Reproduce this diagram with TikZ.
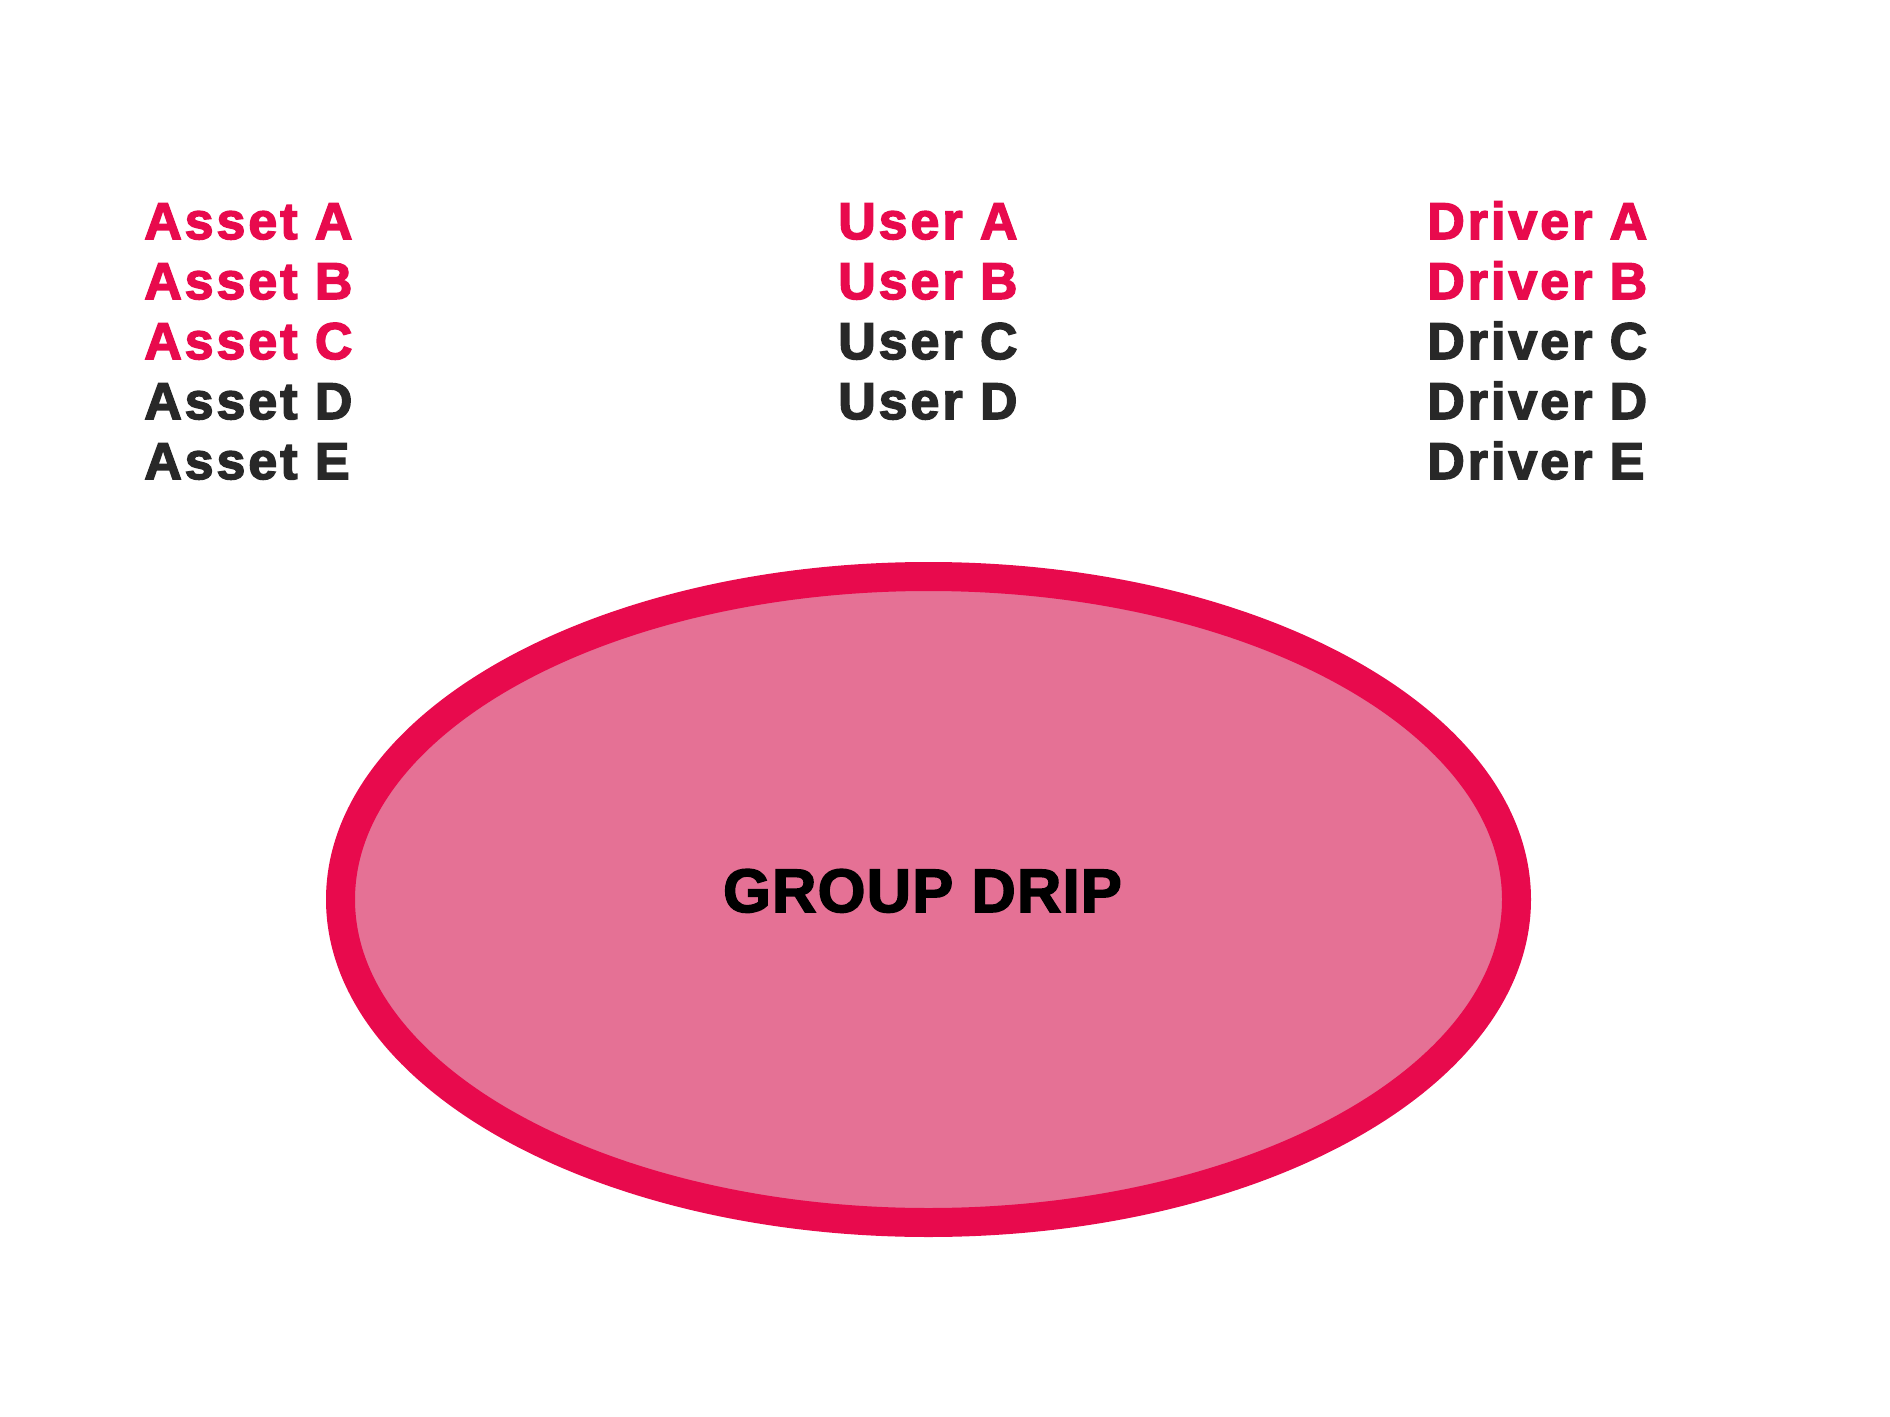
\documentclass[tikz,border=0pt]{standalone}
\usepackage{fontspec}
\setmainfont{Liberation Sans}
\usetikzlibrary{
		shapes.geometric,
		positioning
	}
\definecolor{dripred}{RGB}{232,10,77}
\definecolor{dripfill}{RGB}{229,113,149}
\definecolor{dripdark}{RGB}{40,40,40}
\newfontfamily\labelfont[FakeBold=3,LetterSpace=6]{Liberation Sans Bold}
\newfontfamily\titlefont[FakeBold=2.5,LetterSpace=2]{Liberation Sans Bold}
\tikzset{
		item/.style={anchor=base west, inner sep=0pt, font=\labelfont\fontsize{25.85}{30}\selectfont},
		drip/.style={ellipse, draw=dripred, fill=dripfill, line width=14.5pt, inner sep=0pt}
	}

\begin{document}
\begin{tikzpicture}[x=0.5pt, y=-0.5pt] % (one unit = one pixel of the reference, y pointing down)
		\useasboundingbox (0,0) rectangle (1890,1417);
		\node[drip, minimum width=588pt, minimum height=323pt] (group) at (928.5,899.5) {};
		\node[inner sep=0pt, anchor=base, font=\titlefont\fontsize{30.7}{36}\selectfont] (title) at (922.5,912) {GROUP DRIP};
		% the three columns, first rows in red
		\foreach[count=\i] \l/\c in {A/dripred,B/dripred,C/dripred,D/dripdark,E/dripdark}{
			\node[item, text=\c] (asset\i) at (144,179+60*\i) {Asset \l};
		}
		\foreach[count=\i] \l/\c in {A/dripred,B/dripred,C/dripdark,D/dripdark}{
			\node[item, text=\c] (user\i) at (838,179+60*\i) {User \l};
		}
		\foreach[count=\i] \l/\c in {A/dripred,B/dripred,C/dripdark,D/dripdark,E/dripdark}{
			\node[item, text=\c] (driver\i) at (1427,179+60*\i) {Driver \l};
		}
	\end{tikzpicture}
\end{document}
